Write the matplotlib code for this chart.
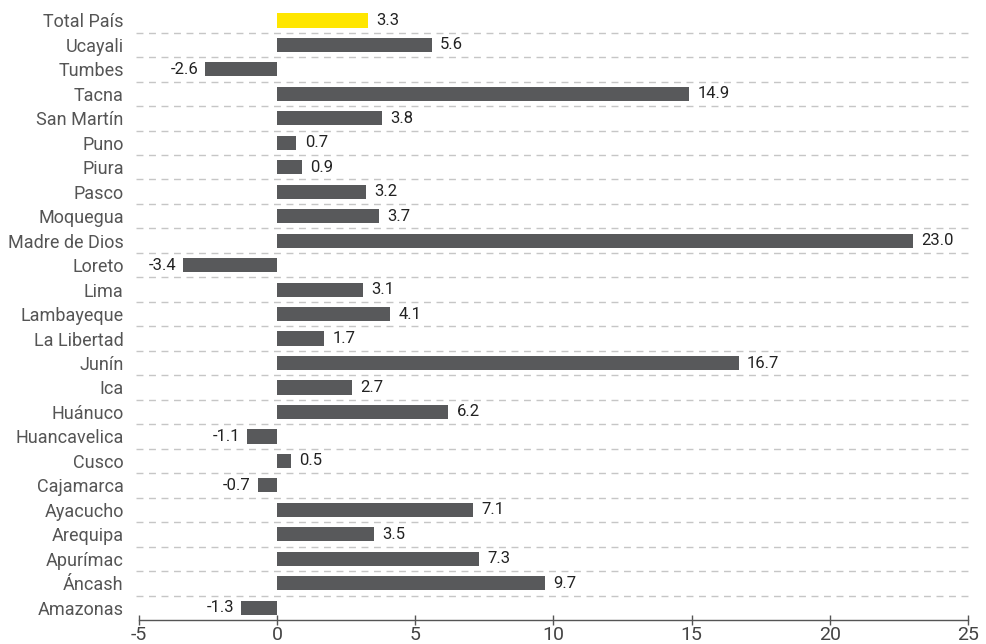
import matplotlib.pyplot as plt
import numpy as np

plt.rcParams['font.family'] = ['Roboto', 'DejaVu Sans']

regions = ['Total País', 'Ucayali', 'Tumbes', 'Tacna', 'San Martín', 'Puno', 'Piura',
           'Pasco', 'Moquegua', 'Madre de Dios', 'Loreto', 'Lima', 'Lambayeque',
           'La Libertad', 'Junín', 'Ica', 'Huánuco', 'Huancavelica', 'Cusco',
           'Cajamarca', 'Ayacucho', 'Arequipa', 'Apurímac', 'Áncash', 'Amazonas']
values = [3.3, 5.6, -2.6, 14.9, 3.8, 0.7, 0.9, 3.2, 3.7, 23.0, -3.4, 3.1, 4.1,
          1.7, 16.7, 2.7, 6.2, -1.1, 0.5, -0.7, 7.1, 3.5, 7.3, 9.7, -1.3]
xticks = [-5, 0, 5, 10, 15, 20, 25]

n = len(regions)
ypos = np.arange(n)[::-1]  # Total País on top
colors = ['#FFE600' if r == 'Total País' else '#58595B' for r in regions]

fig = plt.figure(figsize=(9.87, 6.44), dpi=100)
ax = fig.add_axes([0.1408, 0.0373, 0.8399, 0.950])

ax.barh(ypos, values, height=0.58, color=colors, zorder=3)

# dashed separators between rows
ax.hlines(np.arange(n - 1) + 0.5, -5.1, 25.15, colors='#C6C6C6',
          linestyles=(0, (5, 4)), linewidth=1, clip_on=False, zorder=1)

for y, v in zip(ypos, values):
    if v >= 0:
        ax.text(v + 0.3, y, f'{v:.1f}', ha='left', va='center', fontsize=12, color='#222222')
    else:
        ax.text(v - 0.25, y, f'{v:.1f}', ha='right', va='center', fontsize=12, color='#222222')

ax.set_xlim(-5, 25)
ax.set_ylim(-0.5, n - 0.5)
ax.set_xticks(xticks)
ax.set_xticklabels([str(t) for t in xticks], fontsize=14, color='#444444')
ax.set_yticks(ypos)
ax.set_yticklabels(regions, fontsize=13, color='#555555')
ax.tick_params(axis='y', length=0, pad=11)
ax.tick_params(axis='x', direction='inout', length=7, width=1, color='#555555', pad=1)

for s in ['top', 'right', 'left']:
    ax.spines[s].set_visible(False)
ax.spines['bottom'].set_color('#555555')
ax.spines['bottom'].set_linewidth(1)

fig.savefig('out.png', dpi=100)
